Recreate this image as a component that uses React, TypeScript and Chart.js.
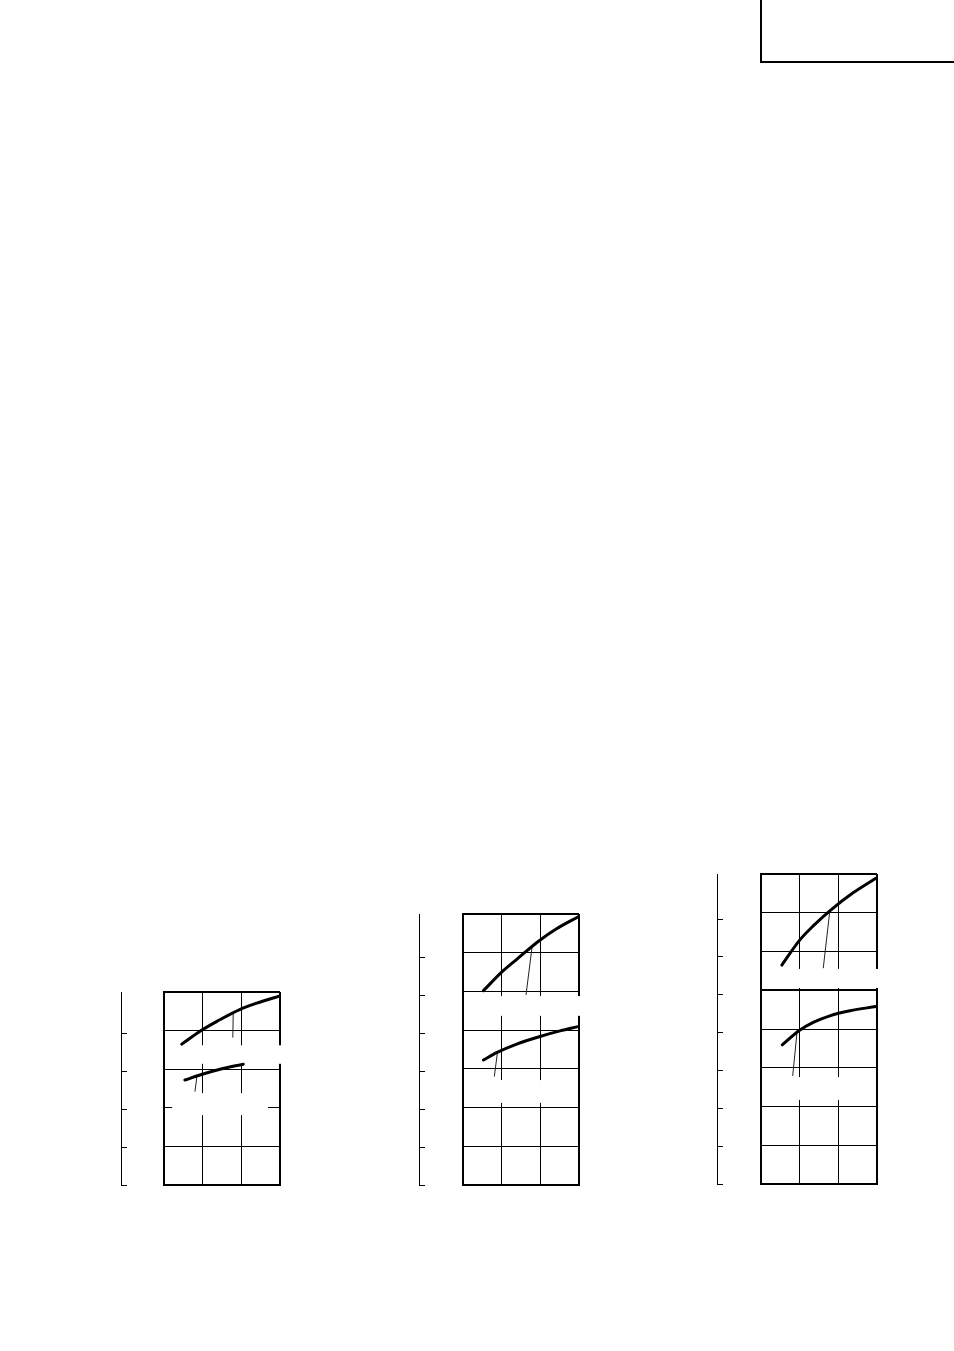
import React, { useEffect, useRef } from "react";
import { Chart, registerables } from "chart.js";

Chart.register(...registerables);

// ---------- data (grid units: x = columns, y = rows from bottom) ----------
const chart1Rows = 5;
const chart1RulerMax = 5.08;
const chart1UpperX = [0.46, 0.99, 1.37, 1.97, 2.4, 3.0];
const chart1UpperY = [3.65, 4.02, 4.24, 4.55, 4.71, 4.9];
const chart1LowerX = [0.54, 0.99, 1.45, 2.05];
const chart1LowerY = [2.72, 2.87, 3.0, 3.13];
const chart1UpperLeaderX = [1.79, 1.78];
const chart1UpperLeaderY = [4.45, 3.82];
const chart1LowerLeaderX = [0.85, 0.8];
const chart1LowerLeaderY = [2.8, 2.42];
// blank label areas [x0, x1, y0, y1]
const chart1Masks = [
  [0.21, 3.08, 3.14, 3.62],
  [0.21, 2.69, 1.81, 2.38],
];
const chart1Thick = [5];

const chart2Rows = 7;
const chart2RulerMax = 7.16;
const chart2UpperX = [0.53, 0.98, 1.39, 1.97, 2.42, 2.98];
const chart2UpperY = [5.02, 5.48, 5.83, 6.31, 6.62, 6.93];
const chart2LowerX = [0.53, 0.87, 1.39, 1.97, 2.51, 2.98];
const chart2LowerY = [3.23, 3.42, 3.64, 3.83, 3.98, 4.09];
const chart2UpperLeaderX = [1.79, 1.63];
const chart2UpperLeaderY = [6.18, 4.91];
const chart2LowerLeaderX = [0.89, 0.81];
const chart2LowerLeaderY = [3.42, 2.8];
const chart2Masks = [
  [0.18, 3.08, 4.37, 4.88],
  [0.18, 2.87, 2.12, 2.71],
];
const chart2Thick = [7];

const chart3Rows = 8;
const chart3RulerMax = 8.19;
const chart3UpperX = [0.54, 0.99, 1.35, 1.78, 2.39, 2.97];
const chart3UpperY = [5.65, 6.28, 6.66, 7.05, 7.52, 7.89];
const chart3LowerX = [0.55, 0.99, 1.35, 1.78, 2.3, 2.97];
const chart3LowerY = [3.59, 3.96, 4.17, 4.34, 4.47, 4.58];
const chart3UpperLeaderX = [1.78, 1.61];
const chart3UpperLeaderY = [7.05, 5.57];
const chart3LowerLeaderX = [0.93, 0.82];
const chart3LowerLeaderY = [3.9, 2.79];
const chart3Masks = [
  [0.23, 3.08, 5.06, 5.55],
  [0.23, 2.87, 2.17, 2.76],
];
const chart3Thick = [8, 5];

const columns = 3;

// ---------- helpers ----------
const pts = (xs: number[], ys: number[]) => xs.map((x, i) => ({ x, y: ys[i] }));

const maskPlugin = {
  id: "labelMask",
  beforeDatasetsDraw(chart: any, _args: any, opts: any) {
    const { ctx, scales } = chart;
    const sx = scales.x;
    const sy = scales.y;
    ctx.save();
    ctx.fillStyle = "#ffffff";
    for (const m of opts.masks || []) {
      const x0 = sx.getPixelForValue(m[0]);
      const x1 = sx.getPixelForValue(m[1]);
      const y0 = sy.getPixelForValue(m[3]);
      const y1 = sy.getPixelForValue(m[2]);
      ctx.fillRect(x0, y0, x1 - x0, y1 - y0);
    }
    ctx.restore();
  },
};

type Cfg = {
  key: string;
  left: number;
  top: number;
  width: number;
  height: number;
  padTop: number;
  padRight: number;
  padBottom: number;
  rulerWidth: number;
  gapWidth: number;
  rows: number;
  rulerMax: number;
  upperX: number[];
  upperY: number[];
  lowerX: number[];
  lowerY: number[];
  upperLeaderX: number[];
  upperLeaderY: number[];
  lowerLeaderX: number[];
  lowerLeaderY: number[];
  masks: number[][];
  thick: number[];
};

const CHARTS: Cfg[] = [
  {
    key: "c1", left: 100, top: 980, width: 190, height: 215,
    padTop: 12, padRight: 10, padBottom: 10, rulerWidth: 21, gapWidth: 43,
    rows: chart1Rows, rulerMax: chart1RulerMax,
    upperX: chart1UpperX, upperY: chart1UpperY, lowerX: chart1LowerX, lowerY: chart1LowerY,
    upperLeaderX: chart1UpperLeaderX, upperLeaderY: chart1UpperLeaderY,
    lowerLeaderX: chart1LowerLeaderX, lowerLeaderY: chart1LowerLeaderY,
    masks: chart1Masks, thick: chart1Thick,
  },
  {
    key: "c2", left: 398, top: 900, width: 192, height: 295,
    padTop: 14, padRight: 11, padBottom: 10, rulerWidth: 21, gapWidth: 44,
    rows: chart2Rows, rulerMax: chart2RulerMax,
    upperX: chart2UpperX, upperY: chart2UpperY, lowerX: chart2LowerX, lowerY: chart2LowerY,
    upperLeaderX: chart2UpperLeaderX, upperLeaderY: chart2UpperLeaderY,
    lowerLeaderX: chart2LowerLeaderX, lowerLeaderY: chart2LowerLeaderY,
    masks: chart2Masks, thick: chart2Thick,
  },
  {
    key: "c3", left: 696, top: 860, width: 192, height: 334,
    padTop: 14, padRight: 11, padBottom: 10, rulerWidth: 21, gapWidth: 44,
    rows: chart3Rows, rulerMax: chart3RulerMax,
    upperX: chart3UpperX, upperY: chart3UpperY, lowerX: chart3LowerX, lowerY: chart3LowerY,
    upperLeaderX: chart3UpperLeaderX, upperLeaderY: chart3UpperLeaderY,
    lowerLeaderX: chart3LowerLeaderX, lowerLeaderY: chart3LowerLeaderY,
    masks: chart3Masks, thick: chart3Thick,
  },
];

function GridChart({ cfg }: { cfg: Cfg }) {
  const ref = useRef<HTMLCanvasElement | null>(null);
  useEffect(() => {
    if (!ref.current) return;
    const curve = (data: any) => ({
      data,
      borderColor: "#000",
      borderWidth: 3,
      pointRadius: 0,
      fill: false,
      cubicInterpolationMode: "monotone" as const,
      borderCapStyle: "round" as const,
    });
    const leader = (data: any) => ({
      data,
      borderColor: "#222",
      borderWidth: 1,
      pointRadius: 0,
      fill: false,
      tension: 0,
    });
    const chart = new Chart(ref.current, {
      type: "line",
      data: {
        datasets: [
          curve(pts(cfg.upperX, cfg.upperY)),
          curve(pts(cfg.lowerX, cfg.lowerY)),
          leader(pts(cfg.upperLeaderX, cfg.upperLeaderY)),
          leader(pts(cfg.lowerLeaderX, cfg.lowerLeaderY)),
        ],
      },
      options: {
        animation: false,
        responsive: false,
        devicePixelRatio: 1,
        events: [],
        layout: { padding: { left: 0, top: cfg.padTop, right: cfg.padRight, bottom: cfg.padBottom } },
        plugins: {
          legend: { display: false },
          tooltip: { enabled: false },
          labelMask: { masks: cfg.masks },
        } as any,
        scales: {
          x: {
            type: "linear",
            min: 0,
            max: columns,
            ticks: { display: false, stepSize: 1 },
            grid: {
              color: "#000",
              drawTicks: false,
              lineWidth: (c: any) => (c.tick && c.tick.value === columns ? 2 : 1),
            },
            border: { display: true, color: "#000", width: 2 },
          },
          y: {
            type: "linear",
            position: "left",
            weight: 0,
            min: 0,
            max: cfg.rows,
            ticks: { display: false, stepSize: 1 },
            grid: {
              color: "#000",
              drawTicks: false,
              lineWidth: (c: any) => (c.tick && cfg.thick.includes(c.tick.value) ? 2 : 1),
            },
            border: { display: true, color: "#000", width: 2 },
            afterFit: (s: any) => {
              s.width = cfg.gapWidth;
            },
          },
          r: {
            type: "linear",
            position: "left",
            weight: 1,
            min: 0,
            max: cfg.rulerMax,
            ticks: { display: false, stepSize: 1 },
            afterBuildTicks: (s: any) => {
              s.ticks = s.ticks.filter((t: any) => Math.abs(t.value - Math.round(t.value)) < 1e-6);
            },
            grid: {
              color: "#000",
              drawOnChartArea: false,
              drawTicks: true,
              tickLength: -6,
              lineWidth: 1,
            },
            border: { display: true, color: "#000", width: 1 },
            afterFit: (s: any) => {
              s.width = cfg.rulerWidth;
            },
          },
        } as any,
      },
      plugins: [maskPlugin],
    });
    return () => chart.destroy();
  }, [cfg]);
  return (
    <div style={{ position: "absolute", left: cfg.left, top: cfg.top, width: cfg.width, height: cfg.height }}>
      <canvas ref={ref} width={cfg.width} height={cfg.height} style={{ display: "block" }} />
    </div>
  );
}

export default function App() {
  return (
    <div
      style={{
        position: "absolute",
        left: 0,
        top: 0,
        width: 954,
        height: 1351,
        overflow: "hidden",
        background: "#fff",
      }}
    >
      <div
        style={{
          position: "absolute",
          left: 760,
          top: 0,
          width: 192,
          height: 61,
          borderLeft: "2px solid #000",
          borderBottom: "2px solid #000",
        }}
      />
      {CHARTS.map((c) => (
        <GridChart key={c.key} cfg={c} />
      ))}
    </div>
  );
}
